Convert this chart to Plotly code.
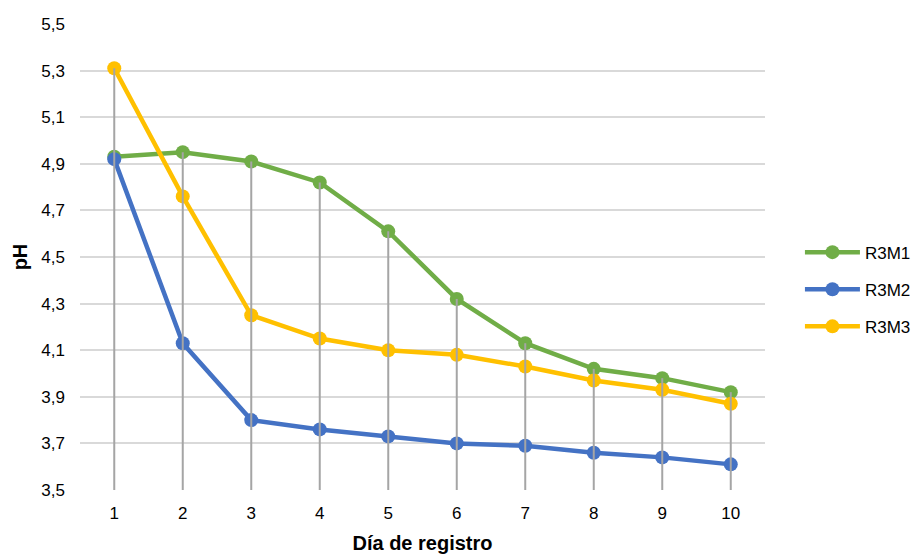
import plotly.graph_objects as go

days = [1, 2, 3, 4, 5, 6, 7, 8, 9, 10]
r3m1 = [4.93, 4.95, 4.91, 4.82, 4.61, 4.32, 4.13, 4.02, 3.98, 3.92]
r3m2 = [4.92, 4.13, 3.80, 3.76, 3.73, 3.70, 3.69, 3.66, 3.64, 3.61]
r3m3 = [5.31, 4.76, 4.25, 4.15, 4.10, 4.08, 4.03, 3.97, 3.93, 3.87]
series = [("R3M1", r3m1, "#70AD47"), ("R3M2", r3m2, "#4472C4"), ("R3M3", r3m3, "#FFC000")]
y_min, y_max = 3.5, 5.5
y_ticks = [3.5, 3.7, 3.9, 4.1, 4.3, 4.5, 4.7, 4.9, 5.1, 5.3, 5.5]

fig = go.Figure()
for i, (name, vals, col) in enumerate(series):
    fig.add_trace(go.Scatter(
        x=days, y=vals, name=name, mode="lines+markers",
        line=dict(color=col, width=4.5),
        marker=dict(color=col, size=14),
        legendgroup=name,
    ))

# drop lines from highest point to axis base
dx, dy = [], []
for j, d in enumerate(days):
    top = max(s[1][j] for s in series)
    dx += [d, d, None]
    dy += [top, y_min, None]
fig.add_trace(go.Scatter(x=dx, y=dy, mode="lines", line=dict(color="#A5A5A5", width=2),
                         showlegend=False, hoverinfo="skip"))

fig.update_layout(
    width=913, height=554,
    margin=dict(l=80, r=148, t=24, b=64, autoexpand=False),
    paper_bgcolor="white", plot_bgcolor="white",
    separators=",.",
    font=dict(family="Liberation Sans, Arial, sans-serif", size=17, color="#000000"),
    xaxis=dict(range=[0.5, 10.5], tickvals=days, ticktext=[str(d) for d in days],
               showgrid=False, zeroline=False, showline=False, ticks="",
               ticklabelstandoff=11, tickfont=dict(size=17), automargin=False,
               title=dict(text="<b>Día de registro</b>", font=dict(size=20), standoff=15)),
    yaxis=dict(range=[y_min, y_max], tickvals=y_ticks, tickformat=".1f",
               showgrid=True, gridcolor="#D9D9D9", gridwidth=1.5, zeroline=False,
               showline=False, ticks="", ticklabelstandoff=14, tickfont=dict(size=17),
               automargin=False,
               title=dict(text="<b>pH</b>", font=dict(size=20), standoff=8)),
    legend=dict(x=1.051, y=0.43, xanchor="left", yanchor="middle",
                font=dict(size=17), tracegroupgap=12, itemwidth=55,
                bgcolor="rgba(0,0,0,0)"),
    showlegend=True,
)

fig.write_html("out.html")
